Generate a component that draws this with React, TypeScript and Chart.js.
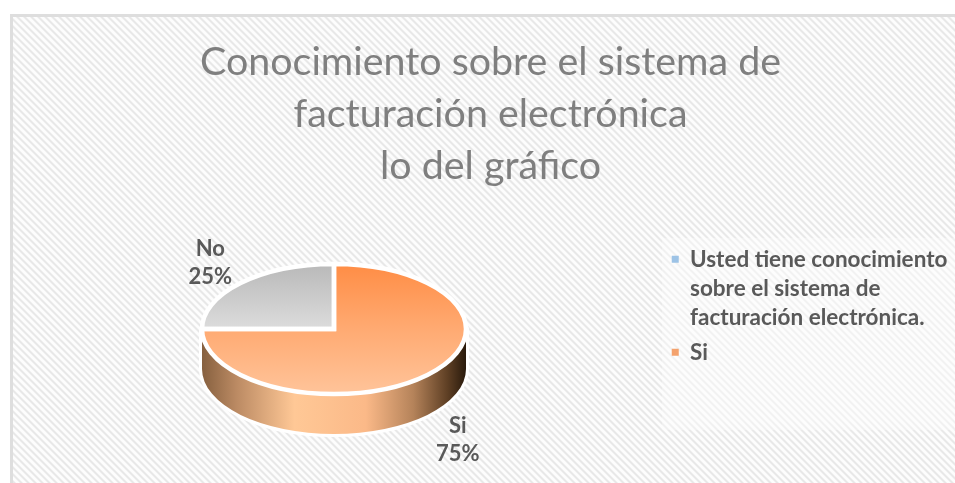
import React, { useEffect, useRef } from "react";
import { Chart, registerables } from "chart.js";

Chart.register(...registerables);

const sliceLabels = ["Si", "No"];
const sliceValues = [75, 25];
const legendTexts = [
  ["Usted tiene conocimiento", "sobre el sistema de", "facturación electrónica."],
  ["Si"],
];
const legendColors = ["#9dc3e6", "#f4a26d"];
const titleLines = ["Conocimiento sobre el sistema de", "facturación electrónica", "lo del gráfico"];

const CX = 334, CY = 329, RX = 132, RY = 65, DEPTH = 40;
const FONT = "Lato, 'Noto Sans', sans-serif";

function makePattern(ctx: CanvasRenderingContext2D) {
  const n = 7;
  const c = document.createElement("canvas");
  c.width = n; c.height = n;
  const t = c.getContext("2d")!;
  for (let y = 0; y < n; y++) for (let x = 0; x < n; x++) {
    const d = ((x - y) % n + n) % n;
    t.fillStyle = d < 2 ? "#e8e8e8" : d < 3 ? "#f3f3f3" : d < 6 ? "#fdfdfd" : "#f3f3f3";
    t.fillRect(x, y, 1, 1);
  }
  return ctx.createPattern(c, "repeat")!;
}

const pie3d = {
  id: "pie3d",
  afterLayout(chart: any) {
    const legend = chart.legend;
    legend.top = 242;
    legend.left = 665.75;
    legend.right = 955;
    legend.width = legend.right - legend.left;
  },
  beforeDraw(chart: any) {
    const { ctx, width, height } = chart;
    ctx.save();
    ctx.fillStyle = "#fff";
    ctx.fillRect(0, 0, width, height);
    ctx.fillStyle = makePattern(ctx);
    ctx.fillRect(10, 14, width - 10, height - 14);
    ctx.strokeStyle = "#dedede";
    ctx.lineWidth = 3;
    ctx.strokeRect(11.5, 15.5, width + 10, height + 10);
    ctx.shadowColor = "rgba(255,255,255,0.6)";
    ctx.shadowBlur = 10;
    ctx.fillStyle = "rgba(255,255,255,0.3)";
    ctx.fillRect(662, 238, 300, 192);
    ctx.restore();
  },
  beforeDatasetsDraw(chart: any) {
    const { ctx } = chart;
    const arcs = chart.getDatasetMeta(0).data;
    const k = RY / RX;
    ctx.save();
    const side = () => {
      ctx.beginPath();
      ctx.ellipse(CX, CY, RX, RY, 0, 0, Math.PI);
      ctx.lineTo(CX - RX, CY + DEPTH);
      ctx.ellipse(CX, CY + DEPTH, RX, RY, 0, Math.PI, 0, true);
      ctx.closePath();
    };
    side();
    ctx.strokeStyle = "#ffffff";
    ctx.lineWidth = 6;
    ctx.lineJoin = "round";
    ctx.stroke();
    const g = ctx.createLinearGradient(CX - RX, 0, CX + RX, 0);
    g.addColorStop(0, "#86603f");
    g.addColorStop(0.13, "#bb8a63");
    g.addColorStop(0.35, "#ffc896");
    g.addColorStop(0.62, "#fbb988");
    g.addColorStop(0.8, "#b5835a");
    g.addColorStop(0.93, "#5e3f24");
    g.addColorStop(1, "#291a0c");
    side();
    ctx.fillStyle = g;
    ctx.fill();
    ctx.restore();
    ctx.save();
    const a = arcs[0];
    ctx.translate(CX, CY);
    ctx.scale(1, k);
    ctx.translate(-a.x, -a.y);
  },
  afterDatasetsDraw(chart: any) {
    const { ctx } = chart;
    ctx.restore();
    const arcs = chart.getDatasetMeta(0).data;
    ctx.save();
    ctx.strokeStyle = "#ffffff";
    ctx.lineWidth = 4.5;
    ctx.lineJoin = "miter";
    arcs.forEach((a: any) => {
      ctx.beginPath();
      ctx.moveTo(CX, CY);
      ctx.ellipse(CX, CY, RX, RY, 0, a.startAngle, a.endAngle);
      ctx.closePath();
      ctx.stroke();
    });
    ctx.fillStyle = "#595959";
    ctx.font = `bold 22px ${FONT}`;
    ctx.textAlign = "center";
    ctx.textBaseline = "middle";
    const total = sliceValues.reduce((s, v) => s + v, 0);
    arcs.forEach((a: any, i: number) => {
      const mid = (a.startAngle + a.endAngle) / 2;
      const x = CX + Math.cos(mid) * 175;
      const lower = Math.sin(mid) > 0;
      const y = CY + Math.sin(mid) * 93 + (lower ? 45 : 0);
      ctx.fillText(sliceLabels[i], x, y - 14);
      ctx.fillText(`${Math.round((sliceValues[i] / total) * 100)}%`, x, y + 14);
    });
    ctx.restore();
  },
};

export default function App() {
  const ref = useRef<HTMLCanvasElement>(null);
  useEffect(() => {
    const chart = new Chart(ref.current!, {
      type: "pie",
      data: {
        labels: sliceLabels,
        datasets: [{
          data: sliceValues,
          clip: false,
          borderWidth: 0,
          radius: RX,
          backgroundColor: (c: any) => {
            const area = c.chart.chartArea;
            if (!area) return "#f4a26d";
            const cy = (area.top + area.bottom) / 2;
            const g = c.chart.ctx.createLinearGradient(0, cy - RX, 0, cy + RX);
            if (c.dataIndex === 0) {
              g.addColorStop(0, "#ff8d45");
              g.addColorStop(0.5, "#ffaa72");
              g.addColorStop(1, "#ffc49a");
            } else {
              g.addColorStop(0, "#b9b9b9");
              g.addColorStop(0.5, "#dcdcdc");
              g.addColorStop(1, "#dcdcdc");
            }
            return g;
          },
        }],
      } as any,
      options: {
        responsive: false,
        animation: false,
        events: [],
        layout: { padding: { left: 35, top: 0, right: 9, bottom: 0 } },
        plugins: {
          tooltip: { enabled: false },
          title: {
            display: true,
            text: titleLines,
            color: "#7f7f7f",
            font: { family: FONT, size: 39.4, weight: "normal", lineHeight: 52 / 39.4 },
            padding: { top: 36, bottom: 10 },
          },
          legend: {
            display: true,
            position: "right",
            align: "start",
            labels: {
              color: "#595959",
              boxWidth: 7,
              boxHeight: 7,
              padding: 6,
              font: { family: FONT, size: 22.5, weight: "bold", lineHeight: 29 / 22.5 },
              generateLabels: () =>
                legendTexts.map((text, i) => ({
                  text,
                  fontColor: "#595959",
                  fillStyle: legendColors[i],
                  strokeStyle: legendColors[i],
                  lineWidth: 0,
                  hidden: false,
                  index: i,
                })),
            },
          },
        },
      } as any,
      plugins: [pie3d as any],
    });
    return () => chart.destroy();
  }, []);
  return (
    <div style={{ position: "absolute", left: 0, top: 0 }}>
      <canvas ref={ref} width={955} height={483} style={{ display: "block" }} />
    </div>
  );
}
